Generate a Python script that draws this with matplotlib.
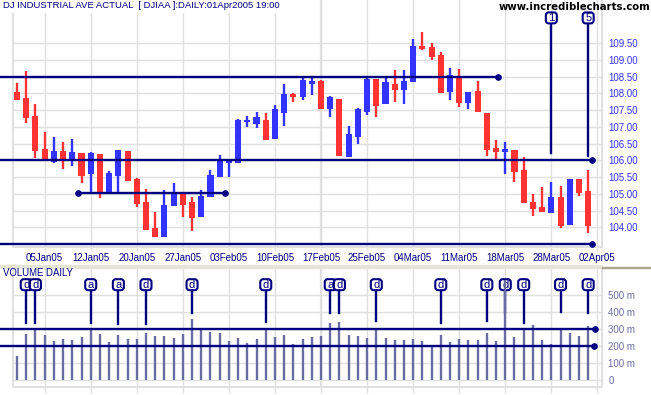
import matplotlib
matplotlib.use('Agg')
import matplotlib.pyplot as plt
from matplotlib.patches import FancyBboxPatch
from matplotlib.transforms import ScaledTranslation

# price data, one entry per trading day
opens = [108.04, 107.87, 107.33, 106.34, 105.94, 106.28, 105.98, 106.22, 105.59, 106.19,
         105.05, 105.53, 106.28, 105.43, 104.76, 103.98, 103.72, 104.64, 105.02, 104.76,
         104.31, 104.91, 105.49, 105.91, 105.91, 107.16, 107.09, 107.21, 106.64, 107.42,
         107.98, 107.90, 108.29, 108.37, 107.54, 107.84, 106.10, 106.70, 107.45, 108.43,
         107.69, 108.27, 108.10, 108.34, 109.42, 109.38, 109.15, 108.05, 108.49, 107.72,
         108.07, 107.42, 106.37, 106.25, 106.31, 105.71, 104.76, 104.61, 104.43, 104.91,
         104.07, 105.44, 105.09]
closes = [107.81, 107.28, 106.29, 105.98, 106.28, 105.98, 106.25, 105.53, 106.22, 105.05,
          105.61, 106.31, 105.38, 104.70, 103.92, 103.72, 104.66, 105.02, 104.67, 104.28,
          104.94, 105.55, 106.01, 105.99, 107.21, 107.21, 107.30, 106.61, 107.54, 107.98,
          107.90, 108.39, 108.36, 107.54, 107.90, 106.13, 106.79, 107.54, 108.42, 107.63,
          108.33, 108.10, 108.36, 109.41, 109.33, 109.09, 108.02, 108.55, 107.72, 108.04,
          107.45, 106.31, 106.25, 106.33, 105.65, 104.73, 104.55, 104.46, 104.91, 104.04,
          105.44, 105.03, 104.04]
highs = [108.30, 108.67, 107.69, 106.86, 106.71, 106.55, 106.64, 106.22, 106.25, 106.19,
         105.68, 106.31, 106.28, 105.46, 105.15, 104.46, 105.12, 105.32, 105.02, 104.91,
         105.12, 105.71, 106.16, 106.01, 107.24, 107.33, 107.45, 107.42, 107.66, 108.28,
         108.01, 108.50, 108.52, 108.40, 107.92, 107.84, 107.03, 107.57, 108.46, 108.43,
         108.49, 108.70, 108.70, 109.63, 109.84, 109.50, 109.24, 108.76, 108.73, 108.04,
         108.37, 107.42, 106.61, 106.55, 106.31, 106.10, 105.00, 105.20, 105.35, 105.23,
         105.44, 105.44, 105.71]
lows = [107.81, 107.13, 106.07, 105.98, 105.91, 105.74, 105.83, 105.32, 105.03, 104.88,
        105.05, 105.03, 105.38, 104.61, 103.92, 103.72, 103.72, 104.64, 104.31, 103.89,
        104.31, 104.91, 105.49, 105.50, 105.91, 107.01, 106.97, 106.61, 106.64, 107.03,
        107.75, 107.81, 107.96, 107.54, 107.30, 106.13, 106.10, 106.49, 107.36, 107.30,
        107.69, 107.75, 107.69, 108.34, 109.30, 109.00, 108.02, 107.81, 107.60, 107.54,
        107.45, 106.13, 105.98, 105.59, 105.35, 104.73, 104.34, 104.46, 104.43, 103.98,
        104.07, 104.94, 103.83]

# millions of shares
volumes = [141, 273, 296, 267, 231, 243, 237, 255, 296, 273, 225, 267, 243, 243, 278, 261,
           261, 249, 273, 361, 296, 284, 278, 231, 249, 220, 243, 308, 255, 267, 214, 243,
           255, 261, 337, 343, 267, 261, 249, 296, 249, 237, 237, 243, 231, 208, 267, 225,
           243, 237, 237, 278, 231, 588, 255, 308, 325, 237, 214, 302, 278, 261, 320]

date_ticks = [3, 8, 13, 18, 23, 28, 33, 38, 43, 48, 53, 58, 63]
date_labels = ['05Jan05', '12Jan05', '20Jan05', '27Jan05', '03Feb05', '10Feb05', '17Feb05',
               '25Feb05', '04Mar05', '11Mar05', '18Mar05', '28Mar05', '02Apr05']
price_ticks = [104.0, 104.5, 105.0, 105.5, 106.0, 106.5, 107.0, 107.5, 108.0, 108.5, 109.0, 109.5]
volume_ticks = [0, 100, 200, 300, 400, 500]
volume_labels = ['0', '100 m', '200 m', '300 m', '400 m', '500 m']

# support / resistance lines: level, first day, last day
price_levels = [108.5, 106.0, 105.02, 103.5]
price_starts = [-1.85, -1.85, 6.6, -1.85]
price_ends = [52.2, 62.4, 22.6, 62.4]
volume_levels = [300, 200]
volume_ends = [62.7, 62.6]

# wave counts on the price panel
wave_days = [58, 62]
wave_labels = ['1', '5']
wave_ends = [106.23, 106.13]
wave_top = 110.26

# accumulation / distribution flags on the volume panel
flag_days = [1, 2, 8, 11, 14, 19, 27, 34, 35, 39, 46, 51, 53, 55, 59, 62]
flag_labels = ['d', 'd', 'a', 'a', 'd', 'd', 'd', 'a', 'd', 'd', 'd', 'd', 'd', 'd', 'd', 'd']
flag_ends = [335, 335, 335, 329, 329, 398, 341, 398, 398, 346, 337, 349, 400, 337, 403, 398]
flag_top = 562

NAVY = '#000080'
RED = '#ff3333'
BLUE = '#3333ff'
VOL = '#6b6ba3'
GRID = '#e0e0e0'
LW = 1.7

W, H = 651, 395
plt.rcParams['font.family'] = ['Liberation Sans', 'DejaVu Sans']


def make_axes(fig, top, bottom):
    # axes box given in image pixels
    ax = fig.add_axes([12.5 / W, 1 - bottom / H, (602 - 12.5) / W, (bottom - top) / H])
    ax.set_xlim(-0.49, 63.5)
    ax.spines['top'].set_visible(False)
    for side in ('left', 'right', 'bottom'):
        ax.spines[side].set_color(GRID)
        ax.spines[side].set_linewidth(1.4)
    ax.yaxis.tick_right()
    ax.grid(True, color=GRID, linewidth=1.0)
    ax.set_axisbelow(True)
    ax.tick_params(axis='y', length=0, pad=4.5)
    ax.tick_params(axis='x', length=3, width=1.0, color=GRID, pad=1.5)
    ax.set_xticks(date_ticks)
    # the 17Feb05 line is drawn heavier
    ax.axvline(date_ticks[6], color=GRID, linewidth=1.6, zorder=0.5)
    return ax


def flag(ax, x, y, s):
    # box sized in inches, placed at a data position
    place = fig.dpi_scale_trans + ScaledTranslation(x, y, ax.transData)
    ax.add_patch(FancyBboxPatch((-0.055, -0.055), 0.11, 0.11,
                                boxstyle='round,pad=0,rounding_size=0.03',
                                fc='white', ec=NAVY, lw=1.5, transform=place, zorder=4,
                                clip_on=False))
    ax.text(x, y, s, ha='center', va='center', fontsize=8, color=NAVY, zorder=4.1, clip_on=False)


fig = plt.figure(figsize=(W / 100, H / 100), dpi=100)

ax1 = make_axes(fig, 0, 247)
ax1.set_ylim(103.41, 110.795)
ax1.set_yticks(price_ticks)
ax1.set_yticklabels([f'{p:.2f}' for p in price_ticks], fontsize=7, color=BLUE)
ax1.set_xticklabels(date_labels, fontsize=7, color=NAVY)

for i in range(len(opens)):
    colour = BLUE if closes[i] > opens[i] else RED
    ax1.plot([i, i], [lows[i], highs[i]], color=colour, linewidth=LW, solid_capstyle='butt',
             zorder=2)
    ax1.bar(i, abs(closes[i] - opens[i]), bottom=min(opens[i], closes[i]), width=0.66,
            color=colour, linewidth=0, antialiased=False, zorder=2)

for level, start, end in zip(price_levels, price_starts, price_ends):
    ax1.plot([start, end], [level, level], color=NAVY, linewidth=LW, zorder=3, clip_on=False)
    dots = [end] if start < 0 else [start, end]
    ax1.plot(dots, [level] * len(dots), 'o', color=NAVY, markersize=3.8, zorder=3)

for day, s, end in zip(wave_days, wave_labels, wave_ends):
    ax1.plot([day, day], [end, wave_top], color=NAVY, linewidth=LW, zorder=3)
    flag(ax1, day, wave_top, s)

ax2 = make_axes(fig, 268, 387)
ax2.set_ylim(-39, 660)
ax2.set_yticks(volume_ticks)
ax2.set_yticklabels(volume_labels, fontsize=7, color=VOL)
ax2.set_xticklabels([])
ax2.tick_params(axis='x', length=4)

for day, s, end in zip(flag_days, flag_labels, flag_ends):
    ax2.plot([day, day], [end, flag_top], color=NAVY, linewidth=LW, zorder=3)
    flag(ax2, day, flag_top, s)

for i, vol in enumerate(volumes):
    ax2.plot([i, i], [0, vol], color=VOL, linewidth=LW, solid_capstyle='butt', zorder=5)

for level, end in zip(volume_levels, volume_ends):
    ax2.plot([-1.85, end], [level, level], color=NAVY, linewidth=LW, zorder=6, clip_on=False)
    ax2.plot([end], [level], 'o', color=NAVY, markersize=3.8, zorder=6)

# strip between the panels
fig.patches.append(plt.Rectangle((0, 1 - 268 / H), 602 / W, 3 / H, transform=fig.transFigure,
                                 color='#e4e4d8', zorder=1))
fig.patches.append(plt.Rectangle((602 / W, 1 - 268 / H), 49 / W, 1 / H, transform=fig.transFigure,
                                 color='#a8a890', zorder=1))

fig.text(3 / W, 1 - 6 / H, 'DJ INDUSTRIAL AVE ACTUAL  [ DJIAA ]:DAILY:01Apr2005 19:00',
         fontsize=6.8, color=NAVY, va='center', zorder=10,
         bbox=dict(fc='white', ec='none', pad=1.5))
fig.text(3 / W, 1 - 272.5 / H, 'VOLUME DAILY', fontsize=6.9, color=NAVY, va='center', zorder=10)
fig.text(650 / W, 1 - 7 / H, 'www.incrediblecharts.com', fontsize=7.3, fontweight='bold',
         family='DejaVu Sans', color='black', va='center', ha='right', zorder=10)

fig.savefig('out.png', dpi=100)
